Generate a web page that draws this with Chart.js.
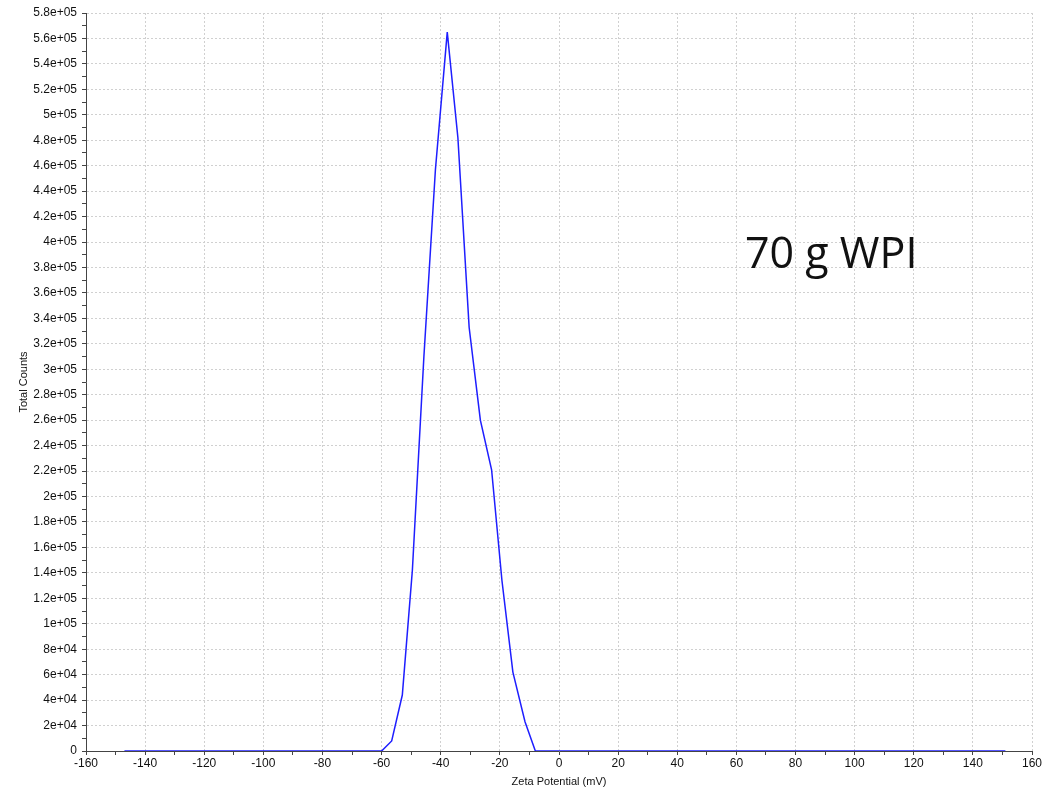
<!DOCTYPE html>
<html>
<head>
<meta charset="utf-8">
<script src="https://cdn.jsdelivr.net/npm/chart.js@4.4.0/dist/chart.umd.min.js"></script>
<style>
  html, body { margin: 0; padding: 0; background: #fff; }
  #wrap { width: 1055px; height: 789px; position: relative; }
</style>
</head>
<body>
<div id="wrap"><canvas id="zetaChart"></canvas></div>
<script>
// Zeta potential distribution
const zetaMv = [-147, -60, -56.6, -53.0, -49.6, -45.7, -41.8, -37.8, -34.2, -30.4, -26.6, -22.8, -19.3, -15.6, -11.5, -8.0, 151];
const totalCounts = [0, 0, 7900, 44000, 142000, 310000, 457000, 565000, 482000, 333000, 260000, 221000, 134000, 62000, 23000, 0, 0];
const sampleLabel = '70 g WPI';

// axis ranges
const xMin = -160, xMax = 160, xStep = 10;
const yMin = 0, yMax = 580000, yStep = 10000;

// 5.8e+05 style labels
function sciLabel(v) {
    if (v === 0) return '0';
    let exp = Math.floor(Math.log10(v) + 1e-9);
    let mant = Math.round(v / Math.pow(10, exp) * 10) / 10;
    let m = (mant % 1 === 0) ? mant.toFixed(0) : mant.toFixed(1);
    return m + 'e+' + String(exp).padStart(2, '0');
}

const points = zetaMv.map((x, i) => ({ x: x, y: totalCounts[i] }));

const labelPlugin = {
    id: 'sampleLabel',
    afterDraw(chart) {
        const ctx = chart.ctx;
        ctx.save();
        ctx.font = '43px "Open Sans"';
        ctx.fillStyle = '#111';
        ctx.textBaseline = 'alphabetic';
        ctx.fillText(sampleLabel, 745, 268);
        ctx.restore();
    }
};

document.addEventListener("DOMContentLoaded", function () {
    let canvas = document.getElementById('zetaChart');
    new Chart(canvas.getContext('2d'), {
        type: 'line',
        data: {
            datasets: [{
                data: points,
                borderColor: 'rgb(30,30,255)',
                borderWidth: 1.5,
                pointRadius: 0,
                tension: 0,
                fill: false
            }]
        },
        options: {
            responsive: true,
            maintainAspectRatio: false,
            animation: false,
            layout: { padding: { top: 13, right: 23, left: 0, bottom: 0 } },
            plugins: { legend: { display: false }, tooltip: { enabled: false } },
            scales: {
                x: {
                    type: 'linear',
                    min: xMin,
                    max: xMax,
                    afterFit(scale) { scale.height = 38; },
                    ticks: {
                        stepSize: xStep,
                        autoSkip: false,
                        maxRotation: 0,
                        padding: 1,
                        color: '#111',
                        font: { family: 'Liberation Sans', size: 12 },
                        callback: v => (v % 20 === 0 ? String(v) : '')
                    },
                    grid: {
                        color: c => (c.tick && c.tick.value % 20 === 0 ? '#d0d0d0' : 'rgba(0,0,0,0)'),
                        tickColor: '#444',
                        tickLength: 4,
                        tickBorderDash: [],
                        lineWidth: 1
                    },
                    border: { color: '#444', width: 1, dash: [2, 2] },
                    title: {
                        display: true,
                        text: 'Zeta Potential (mV)',
                        color: '#111',
                        font: { family: 'Liberation Sans', size: 11 },
                        padding: { top: 0, bottom: 0 }
                    }
                },
                y: {
                    type: 'linear',
                    min: yMin,
                    max: yMax,
                    afterFit(scale) { scale.width = 86; },
                    ticks: {
                        stepSize: yStep,
                        autoSkip: false,
                        padding: 5,
                        color: '#111',
                        font: { family: 'Liberation Sans', size: 12 },
                        callback: v => (v % 20000 === 0 ? sciLabel(v) : '')
                    },
                    grid: {
                        color: c => (c.tick && c.tick.value % 20000 === 0 && c.tick.value !== 0 ? '#d0d0d0' : 'rgba(0,0,0,0)'),
                        tickColor: '#444',
                        tickLength: 4,
                        tickBorderDash: [],
                        lineWidth: 1
                    },
                    border: { color: '#444', width: 1, dash: [2, 2] },
                    title: {
                        display: true,
                        text: 'Total Counts',
                        color: '#111',
                        font: { family: 'Liberation Sans', size: 11 },
                        padding: { top: 17, bottom: 0 }
                    }
                }
            }
        },
        plugins: [labelPlugin]
    });
});
</script>
</body>
</html>
